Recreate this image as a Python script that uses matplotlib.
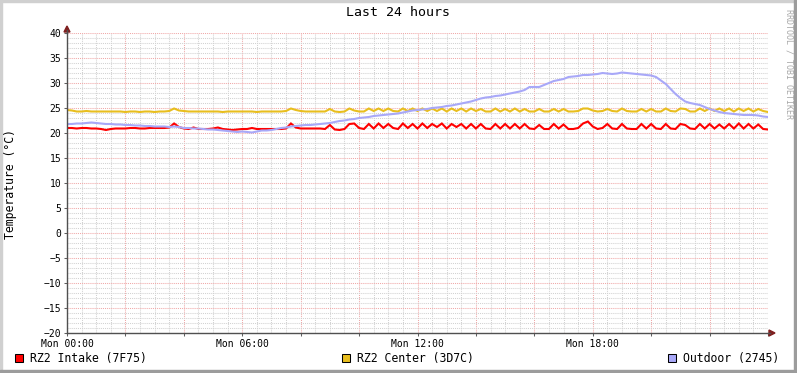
import numpy as np
import pandas as pd
import matplotlib
matplotlib.use('Agg')
import matplotlib.pyplot as plt
import matplotlib.dates as mdates
from matplotlib.ticker import MultipleLocator, FuncFormatter
from matplotlib.patches import Rectangle, Polygon
from matplotlib.lines import Line2D

# 10-minute samples, Mon 00:00 -> Tue 00:00
start = '2024-01-01 00:00'  # a Monday

intake = [
    21.0, 21.0, 20.9, 21.0, 21.0, 20.9, 20.9,
    20.8, 20.6, 20.8, 20.9, 20.9, 20.9,
    21.0, 21.0, 20.9, 20.9, 21.0, 21.0,
    21.0, 21.0, 21.1, 21.9,
    21.2, 20.9, 20.8, 21.1, 20.8, 20.8, 20.8, 20.9,
    21.1, 20.8, 20.7, 20.6, 20.7, 20.8, 20.8,
    21.0, 20.8, 20.8, 20.8, 20.8, 20.8, 20.8, 20.9,
    21.9, 21.1, 20.9, 20.9, 20.9, 20.9, 20.9, 20.8,
    21.6, 20.7, 20.6, 20.8, 21.8, 21.9, 21.0, 20.8, 21.8, 20.9,
    21.9, 21.0, 21.8, 21.0, 20.8, 21.9, 21.0, 21.8, 20.9, 21.9,
    21.0, 21.8, 21.2, 21.9, 20.9, 21.8, 21.2, 21.8, 20.9, 21.8,
    20.9, 21.8, 20.9, 20.8, 21.8, 20.9, 21.8, 20.9, 21.8, 20.9,
    21.8, 20.9, 20.8, 21.6, 20.8, 20.8, 21.8, 20.9, 21.7, 20.8,
    20.8, 21.0, 21.9, 22.3, 21.3, 20.8, 21.0, 21.8, 20.9, 20.8,
    21.8, 20.9, 20.8, 20.8, 21.8, 20.9, 21.8, 20.9, 20.8, 21.8,
    20.9, 20.8, 21.8, 21.6, 20.9, 20.8, 21.8, 20.9, 21.8, 20.9,
    21.7, 20.9, 21.8, 20.9, 21.9, 20.9, 21.8, 20.9, 21.7, 20.8,
    20.7,
]

center = [
    24.6, 24.5, 24.3, 24.3, 24.4, 24.3, 24.3, 24.3, 24.3, 24.3,
    24.3, 24.3, 24.2, 24.3, 24.3, 24.2, 24.3, 24.3, 24.2, 24.3,
    24.3, 24.4, 24.9, 24.5, 24.4, 24.3, 24.3, 24.3, 24.3, 24.3,
    24.3, 24.3, 24.2, 24.3, 24.3, 24.3, 24.3, 24.3, 24.3, 24.2,
    24.3, 24.3, 24.3, 24.3, 24.3, 24.4, 24.9, 24.6, 24.4, 24.3,
    24.3, 24.3, 24.3, 24.3, 24.8, 24.3, 24.2, 24.3, 24.9, 24.5,
    24.3, 24.3, 24.9, 24.4, 24.9, 24.4, 24.9, 24.4, 24.3, 24.9,
    24.4, 24.9, 24.4, 24.9, 24.4, 24.9, 24.4, 24.9, 24.3, 24.9,
    24.4, 24.9, 24.3, 24.9, 24.4, 24.8, 24.3, 24.3, 24.9, 24.3,
    24.8, 24.3, 24.9, 24.3, 24.8, 24.3, 24.3, 24.8, 24.3, 24.3,
    24.8, 24.3, 24.8, 24.3, 24.3, 24.4, 24.9, 24.9, 24.5, 24.3,
    24.4, 24.8, 24.4, 24.3, 24.9, 24.4, 24.3, 24.3, 24.8, 24.3,
    24.8, 24.3, 24.3, 24.9, 24.4, 24.3, 24.9, 24.8, 24.3, 24.3,
    24.9, 24.4, 24.9, 24.4, 24.9, 24.4, 24.9, 24.3, 24.9, 24.4,
    24.9, 24.3, 24.8, 24.4, 24.2,
]

outdoor = [
    21.8, 21.8, 21.9, 21.9, 22.0, 22.1, 22.0, 21.9, 21.8, 21.8,
    21.7, 21.7, 21.6, 21.6, 21.5, 21.5, 21.4, 21.4, 21.3, 21.3,
    21.3, 21.2, 21.3, 21.2, 21.0, 21.0, 20.9, 20.9, 20.8, 20.7,
    20.7, 20.6, 20.5, 20.4, 20.3, 20.2, 20.3, 20.2, 20.1, 20.3,
    20.5, 20.5, 20.6, 20.8, 21.0, 21.1, 21.3, 21.4, 21.5, 21.6,
    21.6, 21.7, 21.8, 21.9, 22.0, 22.2, 22.4, 22.5, 22.7, 22.8,
    23.0, 23.1, 23.2, 23.4, 23.5, 23.6, 23.7, 23.8, 23.9, 24.1,
    24.3, 24.5, 24.6, 24.7, 24.8, 25.0, 25.1, 25.2, 25.4, 25.5,
    25.7, 25.9, 26.1, 26.3, 26.6, 26.9, 27.1, 27.2, 27.4, 27.5,
    27.7, 27.9, 28.1, 28.3, 28.6, 29.2, 29.2, 29.2, 29.6, 30.0,
    30.4, 30.6, 30.8, 31.2, 31.3, 31.4, 31.6, 31.6, 31.7, 31.8,
    32.0, 31.9, 31.8, 31.9, 32.1, 32.0, 31.9, 31.8, 31.7, 31.6,
    31.5, 31.2, 30.5, 29.8, 28.8, 27.8, 27.0, 26.3, 26.0, 25.8,
    25.6, 25.2, 24.8, 24.5, 24.2, 24.0, 23.9, 23.8, 23.7, 23.6,
    23.6, 23.6, 23.5, 23.3, 23.2,
]

labels = ['RZ2 Intake (7F75)', 'RZ2 Center (3D7C)', 'Outdoor (2745)']
colors = ['#FF0000', '#E8BE1E', '#A8A8F8']

times = pd.date_range(start, periods=len(intake), freq='10min')

plt.rcParams['font.family'] = 'DejaVu Sans Mono'

W, H = 797, 373
fig = plt.figure(figsize=(W / 100, H / 100), dpi=100)
fig.patch.set_facecolor('white')


def F(x, y):
    return (x / W, 1 - y / H)


x0, x1, ytop, ybot = 67, 768, 33, 333
ax = fig.add_axes([x0 / W, 1 - ybot / H, (x1 - x0) / W, (ybot - ytop) / H])
ax.set_facecolor('white')

for vals, c in zip([intake, center, outdoor], colors):
    ax.plot(times, vals, color=c, linewidth=1.5, solid_joinstyle='miter')

t0 = times[0]
ax.set_xlim(t0, t0 + pd.Timedelta(hours=24))
ax.set_ylim(-20, 40)

ax.xaxis.set_major_locator(mdates.HourLocator(byhour=range(0, 24, 2)))
ax.xaxis.set_minor_locator(mdates.MinuteLocator(byminute=[0, 30]))


def fmt(v, pos):
    d = mdates.num2date(v)
    if d.hour % 6 == 0 and d.day == t0.day:
        return d.strftime('%a %H:%M')
    return ''


ax.xaxis.set_major_formatter(FuncFormatter(fmt))
ax.set_yticks(range(-20, 41, 5))
ax.yaxis.set_minor_locator(MultipleLocator(1))

ax.grid(which='minor', color='#D2D2D2', linestyle=(0, (1, 1)), linewidth=0.75)
ax.grid(which='major', color='#F0A8A8', linestyle=(0, (1, 1)), linewidth=0.75)
ax.set_axisbelow(True)

ax.tick_params(which='major', length=2, width=0.75, color='#606060',
               labelsize=7, pad=2)
ax.tick_params(which='minor', length=0)

for s in ['top', 'right']:
    ax.spines[s].set_visible(False)
for s in ['left', 'bottom']:
    ax.spines[s].set_color('#505050')
    ax.spines[s].set_linewidth(1)

# axis arrows
fig.add_artist(Line2D([x0 / W, x0 / W], [1 - ytop / H, 1 - 30 / H],
                      color='#505050', linewidth=1, transform=fig.transFigure))
fig.add_artist(Line2D([x1 / W, 770 / W], [1 - ybot / H, 1 - ybot / H],
                      color='#505050', linewidth=1, transform=fig.transFigure))
fig.add_artist(Polygon([F(67, 26), F(64, 32), F(70, 32)], closed=True,
                       color='#7F1F1F', transform=fig.transFigure))
fig.add_artist(Polygon([F(775, 333), F(769, 330), F(769, 336)], closed=True,
                       color='#7F1F1F', transform=fig.transFigure))

fig.text(*F(398, 13), 'Last 24 hours', ha='center', va='center', fontsize=9.5)
fig.text(*F(11, 184), 'Temperature (°C)', ha='center', va='center',
         rotation=90, fontsize=8.3)
fig.text(*F(789, 64), 'RRDTOOL / TOBI OETIKER', ha='center', va='center',
         rotation=270, fontsize=6.0, color='#A8A8A8')

# legend
for lx, lab, c in zip([15, 342, 668], labels, colors):
    fig.add_artist(Rectangle(F(lx, 362), 8 / W, 8 / H, facecolor=c,
                             edgecolor='black', linewidth=0.75,
                             transform=fig.transFigure))
    fig.text(*F(lx + 15, 358.5), lab, ha='left', va='center', fontsize=8.3)

# image border
fig.add_artist(Rectangle((0, 1 - 2 / H), 1, 2 / H, color='#D0D0D0',
                         transform=fig.transFigure))
fig.add_artist(Rectangle((0, 0), 2 / W, 1, color='#D0D0D0',
                         transform=fig.transFigure))
fig.add_artist(Rectangle((0, 0), 1, 3 / H, color='#9C9C9C',
                         transform=fig.transFigure))
fig.add_artist(Rectangle((1 - 3 / W, 0), 3 / W, 1, color='#9C9C9C',
                         transform=fig.transFigure))

fig.savefig('out.png', dpi=100)
